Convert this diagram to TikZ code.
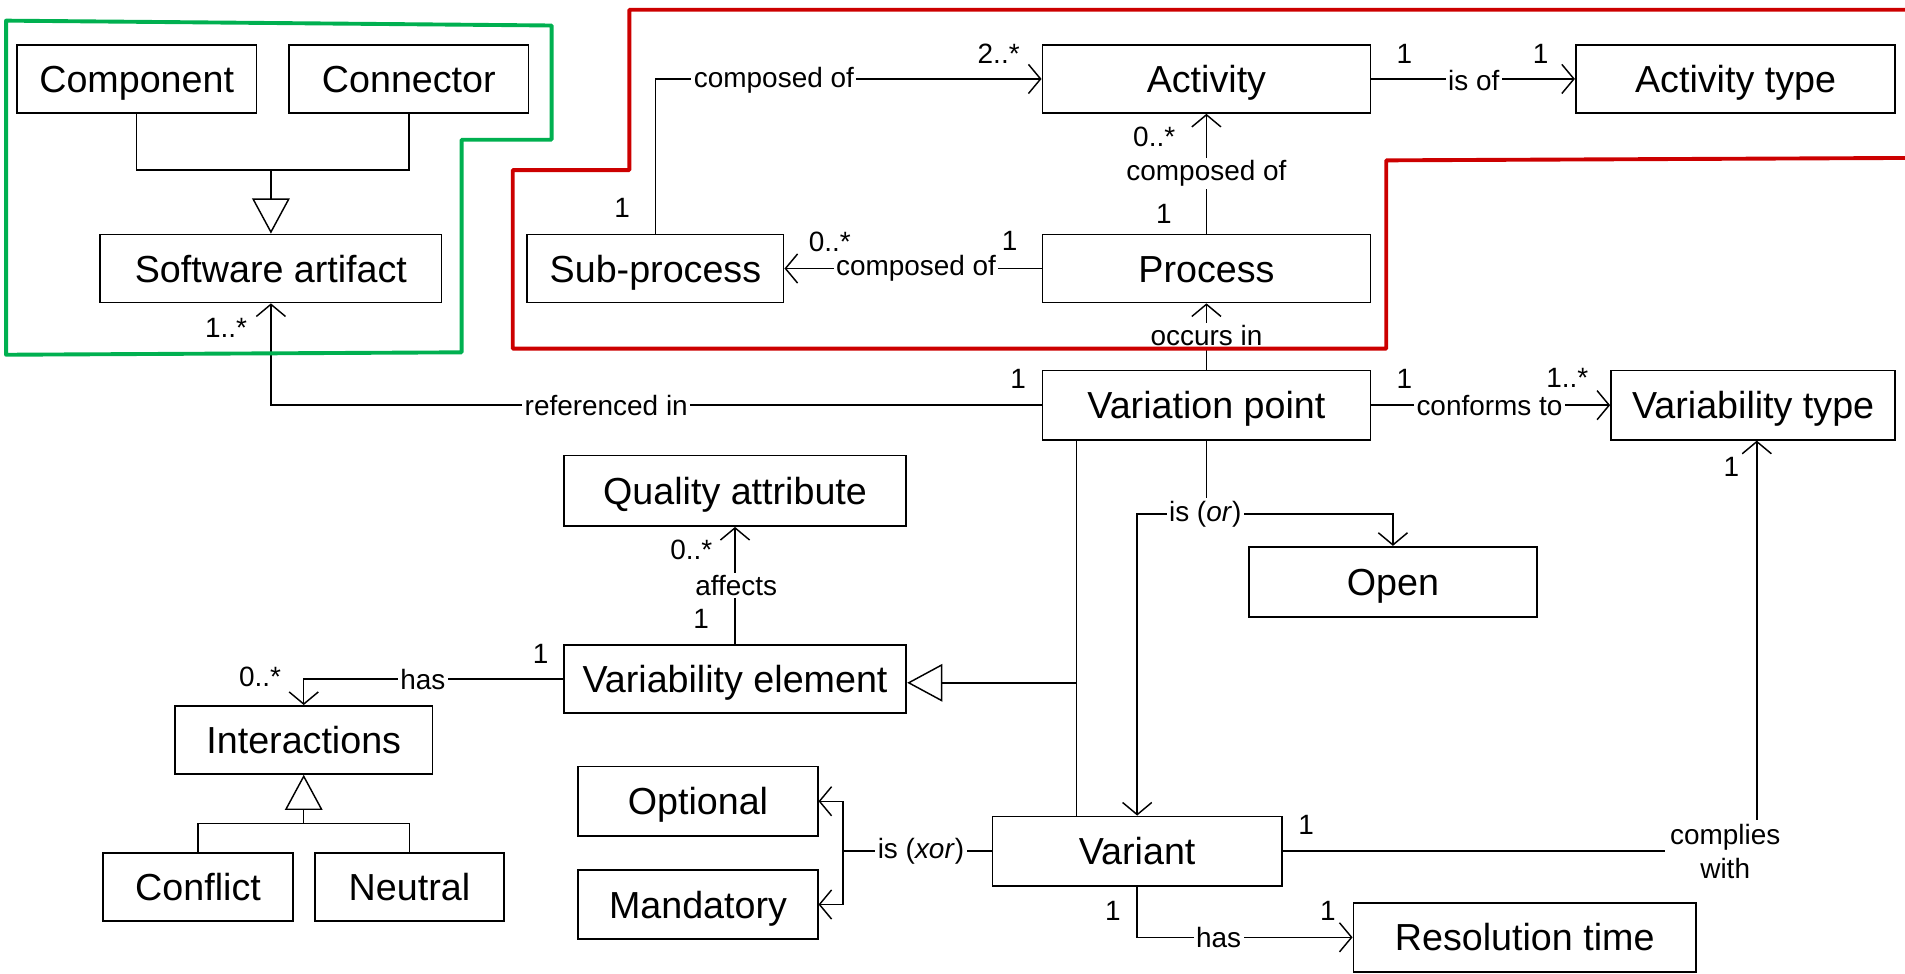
\documentclass[tikz,border=0pt]{standalone}
\usepackage{fontspec}
\setmainfont{Liberation Sans}
\usetikzlibrary{arrows.meta,calc}
\definecolor{grn}{RGB}{0,176,80}
\definecolor{rd}{RGB}{204,0,0}
\begin{document}
\begin{tikzpicture}[x=0.5pt,y=-0.5pt,
  box/.style={draw, line width=0.7pt, inner sep=0pt, text height=11.2pt, text depth=0pt, font=\fontsize{15.5}{18}\selectfont},
  lbl/.style={fill=white, inner sep=1pt, font=\fontsize{11.5}{14}\selectfont},
  mult/.style={inner sep=0pt, font=\fontsize{11.5}{14}\selectfont},
  conn/.style={line width=0.6pt},
  assoc/.style={conn, -{Straight Barb[length=5pt,width=12pt]}},
  gen/.style={conn, -{Triangle[open,length=14.5pt,width=15.5pt]}},
  outline/.style={line width=1.6pt, line join=round}]
\useasboundingbox (0,0) rectangle (1568,801);

% boxes
\node[box, minimum width=98.5pt, minimum height=28pt] (comp) at (112.5,65) {Component};
\node[box, minimum width=98.5pt, minimum height=28pt] (conn) at (336.5,65) {Connector};
\node[box, minimum width=140.5pt, minimum height=28pt] (soft) at (223,221) {Software artifact};
\node[box, minimum width=135pt, minimum height=28pt] (act) at (993,65) {Activity};
\node[box, minimum width=131.5pt, minimum height=28pt] (acttype) at (1428.5,65) {Activity type};
\node[box, minimum width=105.5pt, minimum height=28pt] (sub) at (539.5,221) {Sub-process};
\node[box, minimum width=135pt, minimum height=28pt] (proc) at (993,221) {Process};
\node[box, minimum width=135pt, minimum height=28.5pt] (vp) at (993,333.5) {Variation point};
\node[box, minimum width=117pt, minimum height=28.5pt] (vtype) at (1443,333.5) {Variability type};
\node[box, minimum width=141pt, minimum height=29pt] (qa) at (605,404) {Quality attribute};
\node[box, minimum width=118.5pt, minimum height=29pt] (open) at (1146.5,479) {Open};
\node[box, minimum width=141pt, minimum height=28pt] (ve) at (605,559) {Variability element};
\node[box, minimum width=106pt, minimum height=28pt] (inter) at (250,609) {Interactions};
\node[box, minimum width=78pt, minimum height=28pt] (conflict) at (163,730) {Conflict};
\node[box, minimum width=78pt, minimum height=28pt] (neutral) at (337,730) {Neutral};
\node[box, minimum width=98.5pt, minimum height=28.5pt] (optional) at (574.5,659.5) {Optional};
\node[box, minimum width=98.5pt, minimum height=28.5pt] (mandatory) at (574.5,744.5) {Mandatory};
\node[box, minimum width=119pt, minimum height=28.5pt] (variant) at (936,700.5) {Variant};
\node[box, minimum width=141pt, minimum height=28.5pt] (restime) at (1255,771.5) {Resolution time};

% junction coordinates
\coordinate (j1) at (223,140);
\coordinate (g2) at (886,562);
\coordinate (j3) at (250,678);
\coordinate (orj) at (993,423);
\coordinate (xorj) at (694,700.5);
\coordinate (cw) at (1446,700.5);

% generalizations
\draw[conn] (comp.south) |- (j1) -| (conn.south);
\draw[gen] (j1) -- (soft.north);
\draw[conn] (vp.south -| g2) -- (g2);
\draw[conn] (variant.north -| g2) -- (g2);
\draw[gen] (g2) -- (ve.east |- g2);
\draw[conn] (conflict.north) |- (j3) -| (neutral.north);
\draw[gen] (j3) -- (inter.south);

% associations
\draw[assoc] (vp.west) -| (soft.south);
\draw[assoc] (sub.north) |- (act.west);
\draw[assoc] (act.east) -- (acttype.west);
\draw[assoc] (proc.north) -- (act.south);
\draw[assoc] (proc.west) -- (sub.east);
\draw[assoc] (vp.north) -- (proc.south);
\draw[assoc] (vp.east) -- (vtype.west);
\draw[conn] (vp.south) -- (orj);
\draw[assoc] (orj) -| (open.north);
\draw[assoc] (orj) -| (variant.north);
\draw[assoc] (ve.north) -- (qa.south);
\draw[assoc] (ve.west) -| (inter.north);
\draw[conn] (variant.west) -- (xorj);
\draw[assoc] (xorj) |- (optional.east);
\draw[assoc] (xorj) |- (mandatory.east);
\draw[conn] (variant.east) -- (cw);
\draw[assoc] (cw) -- (cw |- vtype.south);
\draw[assoc] (variant.south) |- (restime.west);

% labels
\node[lbl] (l1) at (499,333.5) {referenced in};
\node[lbl] (l2) at (637,66) {composed of};
\node[lbl] (l3) at (1213,66) {is of};
\node[lbl] (l4) at (993,143) {composed of};
\node[lbl] (l5) at (754,221) {composed of};
\node[lbl] (l6) at (993,276) {occurs in};
\node[lbl] (l7) at (1226,333.5) {conforms to};
\node[lbl] (l8) at (992,423) {is (\textit{or})};
\node[lbl] (l9) at (606,482) {affects};
\node[lbl] (l10) at (348,559) {has};
\node[lbl] (l11) at (758,700.5) {is (\textit{xor})};
\node[lbl, align=center, inner sep=2pt] (l12) at (1420,701) {complies\\with};
\node[lbl] (l13) at (1003,771.5) {has};

% multiplicities
\node[mult] (m1) at (186,270) {1..*};
\node[mult] (m2) at (838,312) {1};
\node[mult] (m3) at (512,171) {1};
\node[mult] (m4) at (822,44) {2..*};
\node[mult] (m5) at (1156,44) {1};
\node[mult] (m6) at (1268,44) {1};
\node[mult] (m7) at (950,113) {0..*};
\node[mult] (m8) at (958,176) {1};
\node[mult] (m9) at (683,199) {0..*};
\node[mult] (m10) at (831,198) {1};
\node[mult] (m11) at (1156,312) {1};
\node[mult] (m12) at (1290,311) {1..*};
\node[mult] (m13) at (1425,384) {1};
\node[mult] (m14) at (569,453) {0..*};
\node[mult] (m15) at (577,509) {1};
\node[mult] (m16) at (445,538) {1};
\node[mult] (m17) at (214,557) {0..*};
\node[mult] (m18) at (1075,679) {1};
\node[mult] (m19) at (916,750) {1};
\node[mult] (m20) at (1093,750) {1};

% outlines
\draw[outline, grn] (5,17) -- (454,21) -- (454,115) -- (380,115) -- (380,290) -- (5,292) -- cycle;
\draw[outline, rd] (1572,8) -- (518,8) -- (518,140) -- (422,140) -- (422,287) -- (1141,287) -- (1141,132) -- (1572,130);
\end{tikzpicture}
\end{document}
